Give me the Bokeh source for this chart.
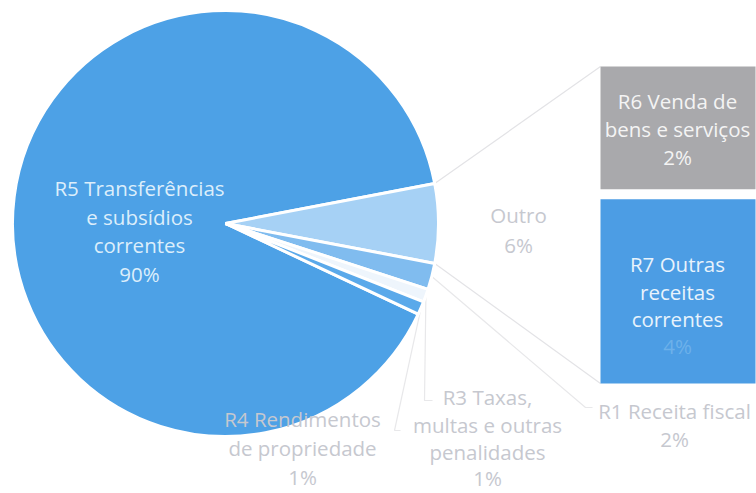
import math
from bokeh.plotting import figure
from bokeh.models import Range1d
from bokeh.core.properties import value
from bokeh.embed import file_html
from bokeh.resources import INLINE

# ---------------- data ----------------
pie_categories = ["R5 Transferências e subsídios correntes", "Outro", "R1 Receita fiscal",
                  "R3 Taxas, multas e outras penalidades", "R4 Rendimentos de propriedade"]
pie_values = [90, 6, 2, 1, 1]
pie_label_lines = [["R5 Transferências", "e subsídios", "correntes"],
                   ["Outro"],
                   ["R1 Receita fiscal"],
                   ["R3 Taxas,", "multas e outras", "penalidades"],
                   ["R4 Rendimentos", "de propriedade"]]
bar_categories = ["R6 Venda de bens e serviços", "R7 Outras receitas correntes"]
bar_values = [2.4, 3.6]
bar_label_lines = [["R6 Venda de", "bens e serviços"],
                   ["R7 Outras", "receitas", "correntes"]]

# ---------------- style / layout ----------------
W, H = 756, 493
FONT = "Open Sans"
FS = "20.5px"
pie_colors = ["#4DA1E6", "#A6D1F5", "#80BCEF", "#EEF5FC", "#5AA9EA"]
bar_colors = ["#A9A9AC", "#4C9DE4"]
out_text = "#C6C8CF"
CX, CY, R = 225, H - 223, 213
BX0, BX1 = 600, 755
BTOP, BBOT = H - 66, H - 383
GAP = 10

p = figure(width=W, height=H, x_range=Range1d(0, W), y_range=Range1d(0, H),
           output_backend="svg", toolbar_location=None, min_border=0)
p.axis.visible = False
p.grid.visible = False
p.outline_line_color = None
p.background_fill_color = "white"

# ---------------- pie angles ----------------
total = sum(pie_values)
frac = [v / total * 2 * math.pi for v in pie_values]
starts, ends = [0] * 5, [0] * 5
starts[1], ends[1] = -frac[1] / 2, frac[1] / 2
cur = starts[1]
for i in (2, 3, 4):
    ends[i] = cur
    starts[i] = cur - frac[i]
    cur = starts[i]
starts[0] = ends[1]
ends[0] = cur + 2 * math.pi

# connector lines to bar (drawn first, behind)
bar_total = sum(bar_values)
scale = (BTOP - BBOT - GAP) / bar_total
p.line([CX + R * math.cos(ends[1]), BX0], [CY + R * math.sin(ends[1]), BTOP],
       line_color="#E3E3E6", line_width=1.2)
p.line([CX + R * math.cos(starts[1]), BX0], [CY + R * math.sin(starts[1]), BBOT],
       line_color="#E3E3E6", line_width=1.2)

# leader lines
def rim(i, r=R):
    a = (starts[i] + ends[i]) / 2
    return CX + r * math.cos(a), CY + r * math.sin(a)

x1, y1 = rim(2)
p.line([x1, 585, 592], [y1, H - 407, H - 407], line_color="#E8E8EA", line_width=1.2)
x3, y3 = rim(3)
p.line([x3, 424, 432], [y3, H - 400, H - 400], line_color="#E8E8EA", line_width=1.2)
x4, y4 = rim(4)
p.line([x4, 394, 400], [y4, H - 430, H - 430], line_color="#E8E8EA", line_width=1.2)

# wedges
p.wedge(x=[CX] * 5, y=[CY] * 5, radius=R, start_angle=starts, end_angle=ends,
        fill_color=pie_colors, line_color="white", line_width=3, direction="anticlock")

# bar of pie (R7 bottom, R6 top)
bottom_r7 = BBOT
top_r7 = BBOT + bar_values[1] * scale
bottom_r6 = top_r7 + GAP
top_r6 = bottom_r6 + bar_values[0] * scale
p.quad(left=[BX0, BX0], right=[BX1, BX1], bottom=[bottom_r6, bottom_r7], top=[top_r6, top_r7],
       fill_color=bar_colors, line_color=None)

def lines(xc, ys, texts, color, size=FS):
    p.text(x=[xc] * len(texts), y=[H - y for y in ys], text=texts,
           text_font=value(FONT), text_font_size=size, text_color=color,
           text_align="center", text_baseline="middle")

pct = lambda v: f"{round(v)}%"

# labels
lines(139, [187, 216, 244, 273], pie_label_lines[0] + [pct(pie_values[0])], "#DCEEFB")
lines(518, [214, 244], pie_label_lines[1] + [pct(pie_values[1])], out_text)
lines(674, [410, 438], pie_label_lines[2] + [pct(pie_values[2])], out_text)
lines(487, [396, 424, 451, 477], pie_label_lines[3] + [pct(pie_values[3])], out_text)
lines(302, [418, 447, 476], pie_label_lines[4] + [pct(pie_values[4])], out_text)
lines(677, [100, 128, 156], bar_label_lines[0] + [pct(bar_values[0])], "#F4F4F4")
lines(677, [263, 291, 318], bar_label_lines[1], "#E8F3FC")
lines(677, [345], [pct(bar_values[1])], "#6DB1EA")

open("out.html", "w").write(file_html(p, INLINE))
